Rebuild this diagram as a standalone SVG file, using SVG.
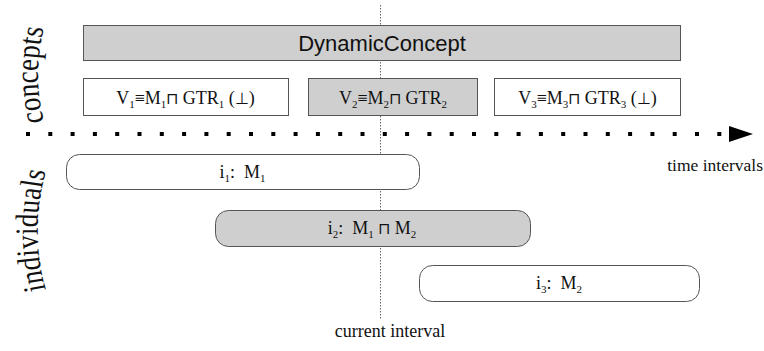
<svg xmlns="http://www.w3.org/2000/svg" width="764" height="351" viewBox="0 0 764 351">
<style>
.box{stroke:#555;stroke-width:1;}
.white{fill:#fff;}
.gray{fill:#cfcfcf;}
.serif{font-family:"Liberation Serif","DejaVu Serif",serif;fill:#111;}
.sans{font-family:"Liberation Sans",Arial,sans-serif;fill:#111;}
.sym{font-family:"DejaVu Sans",sans-serif;font-weight:200;font-size:16px;}
.lbl{font-size:18px;}
.sub{font-size:11px;}
.side{font-size:27px;}
</style>
<defs>
<path id="arcC" d="M47,132 A220,220 0 0 1 47,18"/>
<path id="arcI" d="M49,300 A260,260 0 0 1 49,161"/>
</defs>
<rect width="764" height="351" fill="#fff"/>
<g id="side-labels">
<text class="serif side" transform="translate(47 0) scale(1.2 1) translate(-47 0)"><textPath href="#arcC" startOffset="50%" text-anchor="middle">concepts</textPath></text>
<text class="serif side" transform="translate(49 0) scale(1.2 1) translate(-49 0)"><textPath href="#arcI" startOffset="50%" text-anchor="middle">individuals</textPath></text>
</g>
<g id="connectors">
<line x1="380.5" y1="5" x2="380.5" y2="320" stroke="#666" stroke-width="1" stroke-dasharray="1.5 1.5"/>
<line x1="26" y1="134" x2="724" y2="134" stroke="#000" stroke-width="4" stroke-dasharray="4 18.3"/>
<polygon points="729,126 753,134 729,142" fill="#000"/>
</g>
<g id="DynamicConcept">
<rect class="box gray" x="83.5" y="25.5" width="597" height="35"/>
<text class="sans" x="382" y="51" font-size="22" text-anchor="middle">DynamicConcept</text>
</g>
<g id="V1">
<rect class="box white" x="83.5" y="78.5" width="205" height="37"/>
<text class="serif lbl" x="185.5" y="104" text-anchor="middle">V<tspan class="sub" dy="4">1</tspan><tspan dy="-4">≡M</tspan><tspan class="sub" dy="4">1</tspan><tspan class="sym" dy="-4">⊓</tspan><tspan> GTR</tspan><tspan class="sub" dy="4">1</tspan><tspan dy="-4"> (</tspan><tspan class="sym">⊥</tspan><tspan>)</tspan></text>
</g>
<g id="V2">
<rect class="box gray" x="308.5" y="78.5" width="169" height="37"/>
<text class="serif lbl" x="393" y="104" text-anchor="middle">V<tspan class="sub" dy="4">2</tspan><tspan dy="-4">≡M</tspan><tspan class="sub" dy="4">2</tspan><tspan class="sym" dy="-4">⊓</tspan><tspan> GTR</tspan><tspan class="sub" dy="4">2</tspan></text>
</g>
<g id="V3">
<rect class="box white" x="494.5" y="78.5" width="186" height="37"/>
<text class="serif lbl" x="587.5" y="104" text-anchor="middle">V<tspan class="sub" dy="4">3</tspan><tspan dy="-4">≡M</tspan><tspan class="sub" dy="4">3</tspan><tspan class="sym" dy="-4">⊓</tspan><tspan> GTR</tspan><tspan class="sub" dy="4">3</tspan><tspan dy="-4"> (</tspan><tspan class="sym">⊥</tspan><tspan>)</tspan></text>
</g>
<g id="i1">
<rect class="box white" x="66.5" y="154.5" width="353" height="35" rx="13"/>
<text class="serif lbl" x="242.5" y="178" text-anchor="middle">i<tspan class="sub" dy="4">1</tspan><tspan dy="-4">:</tspan><tspan dx="9">M</tspan><tspan class="sub" dy="4">1</tspan></text>
</g>
<g id="i2">
<rect class="box gray" x="215.5" y="210.5" width="315" height="36" rx="13"/>
<text class="serif lbl" x="372" y="234" text-anchor="middle">i<tspan class="sub" dy="4">2</tspan><tspan dy="-4">:</tspan><tspan dx="9">M</tspan><tspan class="sub" dy="4">1</tspan><tspan dy="-4"> </tspan><tspan class="sym">⊓</tspan><tspan> M</tspan><tspan class="sub" dy="4">2</tspan></text>
</g>
<g id="i3">
<rect class="box white" x="419.5" y="265.5" width="280" height="36" rx="13"/>
<text class="serif lbl" x="559" y="289" text-anchor="middle">i<tspan class="sub" dy="4">3</tspan><tspan dy="-4">:</tspan><tspan dx="9">M</tspan><tspan class="sub" dy="4">2</tspan></text>
</g>
<g id="labels">
<text class="serif" x="763" y="171" font-size="17.5" text-anchor="end">time intervals</text>
<text class="serif" x="390" y="337" font-size="18" text-anchor="middle">current interval</text>
</g>
</svg>
